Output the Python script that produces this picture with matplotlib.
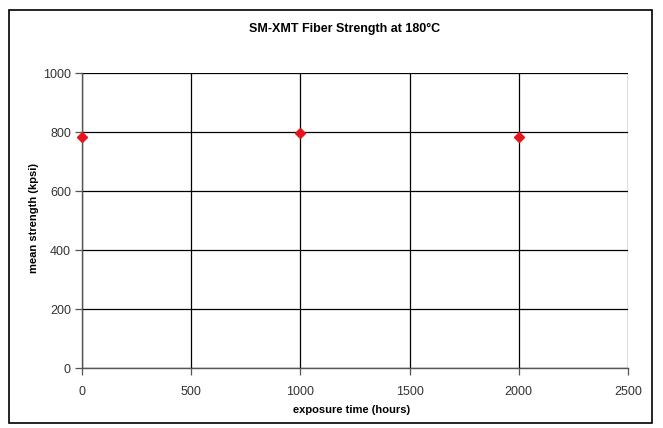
import matplotlib
matplotlib.use("Agg")
from matplotlib import pyplot as plt
from matplotlib.patches import Rectangle

plt.rcParams['font.family'] = ['Liberation Sans', 'DejaVu Sans']

# data
exposure_hours = [0, 1000, 2000]
mean_strength = [784, 798, 785]
x_ticks = [0, 500, 1000, 1500, 2000, 2500]
y_ticks = [0, 200, 400, 600, 800, 1000]

fig = plt.figure(figsize=(6.63, 4.28), dpi=100)
ax = fig.add_axes([0.1237, 0.140, 0.8233, 0.689])

ax.plot(exposure_hours, mean_strength, linestyle='none', marker='D',
        markersize=5.5, color='#e8141c', zorder=5, clip_on=False)

ax.set_xlim(0, 2500)
ax.set_ylim(0, 1000)
ax.set_xticks(x_ticks)
ax.set_yticks(y_ticks)
ax.grid(True, color='black', linewidth=0.9)
ax.set_axisbelow(True)

for side in ['top', 'right']:
    ax.spines[side].set_visible(False)
for side in ['left', 'bottom']:
    ax.spines[side].set_color('#555555')
    ax.spines[side].set_linewidth(1.0)

ax.tick_params(axis='both', direction='out', length=5, width=0.9,
               color='#555555', labelsize=9, labelcolor='#333333')
ax.tick_params(axis='x', pad=8)
ax.tick_params(axis='y', pad=3)

fig.text(0.52, 0.933, "SM-XMT Fiber Strength at 180\u00b0C", ha='center', va='center',
         fontsize=9, fontweight='bold')
fig.text(0.53, 0.043, "exposure time (hours)", ha='center', va='center',
         fontsize=8, fontweight='bold')
fig.text(0.052, 0.49, "mean strength (kpsi)", ha='center', va='center',
         rotation=90, fontsize=8, fontweight='bold')

fig.patches.append(Rectangle((0.014, 0.012), 0.969, 0.965, transform=fig.transFigure,
                             fill=False, edgecolor='black', linewidth=1.2))

fig.savefig("out.png", dpi=100)
